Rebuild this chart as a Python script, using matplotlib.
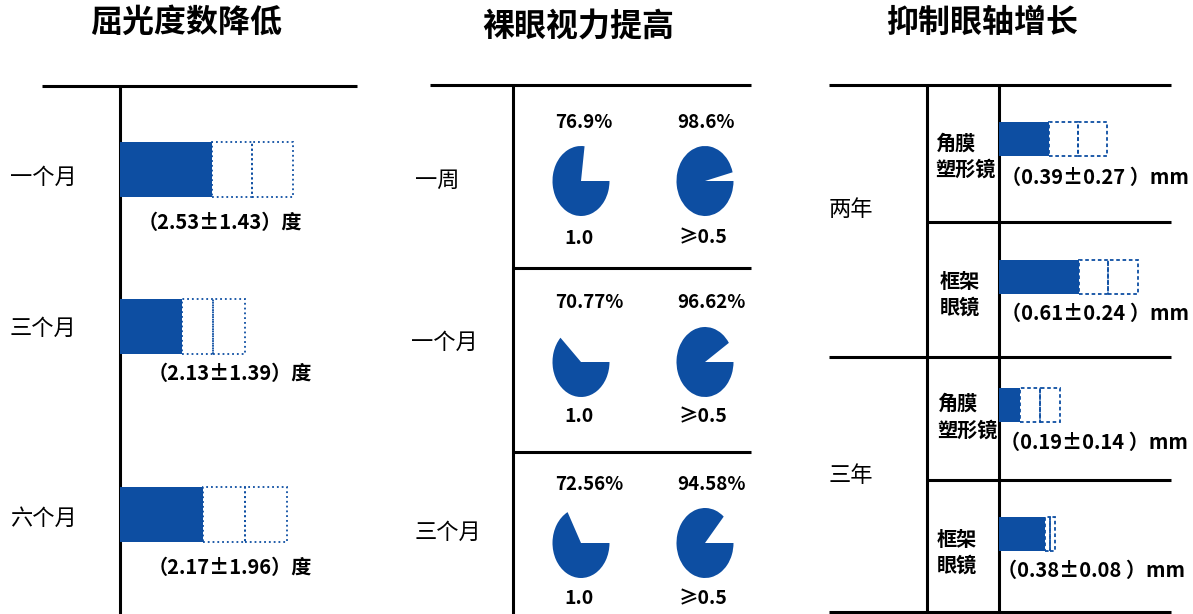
import matplotlib
matplotlib.use("Agg")
from matplotlib import pyplot as plt

plt.rcParams["font.family"] = ["Noto Sans CJK SC", "DejaVu Sans"]

BLUE = "#0d4ea2"

# panel titles
titles = ["屈光度数降低", "裸眼视力提高", "抑制眼轴增长"]

# left panel: refraction decrease (degrees)
refr_periods = ["一个月", "三个月", "六个月"]
refr_mean = [2.53, 2.13, 2.17]
refr_sd = [1.43, 1.39, 1.96]
# bar lengths as drawn in the picture (solid part + each dotted box)
refr_bar = [2.53, 1.69, 2.28]
refr_box = [1.11, 0.87, 1.15]

# middle panel: uncorrected visual acuity
va_periods = ["一周", "一个月", "三个月"]
va_levels = ["1.0", "≥0.5"]
va_pct = [[76.9, 98.6], [70.77, 96.62], [72.56, 94.58]]
# missing wedge of each pie as drawn
va_gap = [[0.23, 0.04], [0.378, 0.092], [0.328, 0.136]]

# right panel: axial elongation (mm)
axial_years = ["两年", "三年"]
axial_groups = [["角膜", "塑形镜"], ["框架", "眼镜"]]
axial_mean = [[0.39, 0.61], [0.19, 0.38]]
axial_sd = [[0.27, 0.24], [0.14, 0.08]]
axial_bar = [[0.385, 0.615], [0.158, 0.354]]
axial_box = [[0.223, 0.227], [0.154, 0.038]]

W, H = 1193, 614
fig = plt.figure(figsize=(W / 100, H / 100), dpi=100)
bg = fig.add_axes([0, 0, 1, 1])
bg.set_xlim(0, W)
bg.set_ylim(H, 0)
bg.axis("off")


def px_axes(x0, y0, w, h):
    a = fig.add_axes([x0 / W, 1 - (y0 + h) / H, w / W, h / H])
    a.axis("off")
    return a


def hline(y, x0, x1):
    bg.plot([x0, x1], [y, y], color="black", lw=2.2, solid_capstyle="butt")


def vline(x, y0, y1):
    bg.plot([x, x], [y0, y1], color="black", lw=2.2, solid_capstyle="butt")


def bar_row(x0, yc, h, scale, solid, box, ls):
    a = px_axes(x0, yc - h / 2, 220, h)
    a.set_xlim(0, 220 / scale)
    a.set_ylim(-0.5, 0.5)
    a.barh(0, solid, height=1, color=BLUE, clip_on=False)
    for k in range(2):
        a.barh(0, box, left=solid + k * box, height=1, fill=False,
               edgecolor=BLUE, linestyle=ls, linewidth=1.3, clip_on=False)


# titles
for t, (x, y) in zip(titles, [(186, 23), (578, 27), (982, 23)]):
    bg.text(x, y, t, fontsize=23, fontweight="bold", ha="center", va="center")

# ---- left panel ----
hline(86, 42, 357)
vline(120, 86, 614)
refr_rows = [169.5, 326, 514]
refr_lab = [(43, 177), (43, 328), (43, 518)]
refr_val = [(220, 222), (230, 373), (230, 567)]
for i in range(3):
    bar_row(120, refr_rows[i], 55, 36.4, refr_bar[i], refr_box[i], ":")
    bg.text(*refr_lab[i], refr_periods[i], fontsize=16, ha="center", va="center")
    bg.text(*refr_val[i], f"（{refr_mean[i]:.2f}±{refr_sd[i]:.2f}）度",
            fontsize=14.5, fontweight="bold", ha="center", va="center")

# ---- middle panel ----
hline(85, 430, 751)
vline(513, 85, 614)
hline(268, 513, 751)
hline(452, 513, 751)
va_lab = [(437, 180), (444, 342), (448, 532)]
pie_cy = [181, 362, 543]
pie_cx = [581, 705]
pct_y = [122, 302, 485]
lvl_y = [238, 417, 599]
for i in range(3):
    bg.text(*va_lab[i], va_periods[i], fontsize=16, ha="center", va="center")
    for j in range(2):
        rx, ry = 28.5, 35
        a = px_axes(pie_cx[j] - rx, pie_cy[i] - ry, 2 * rx, 2 * ry)
        a.pie([va_gap[i][j], 1 - va_gap[i][j]], colors=["none", BLUE],
              startangle=0, counterclock=True, wedgeprops=dict(linewidth=0))
        a.set_aspect("auto")
        a.set_xlim(-1, 1)
        a.set_ylim(-1, 1)
        bg.text([555, 677][j], pct_y[i], f"{va_pct[i][j]:g}%", fontsize=13.5,
                fontweight="bold", ha="left", va="center")
        bg.text([579, 703][j], lvl_y[i], va_levels[j], fontsize=14,
                fontweight="bold", ha="center", va="center")

# ---- right panel ----
hline(85, 829, 1171)
vline(927, 85, 612)
vline(999, 85, 612)
hline(222, 927, 1171)
hline(357, 829, 1171)
hline(480, 927, 1171)
hline(612, 829, 1171)
ax_rows = [[139, 277], [405, 534]]
ax_year_y = [210, 475]
grp_pos = [[(935, 143, 169), (940, 282, 307)], [(937, 403, 430), (937, 539, 565)]]
ax_val = [[(1095, 177), (1095, 313)], [(1094, 442), (1091, 570)]]
for i in range(2):
    bg.text(851, ax_year_y[i], axial_years[i], fontsize=16, ha="center", va="center")
    for j in range(2):
        bar_row(999, ax_rows[i][j], 34, 130, axial_bar[i][j], axial_box[i][j], (0, (2, 1.5)))
        gx, gy1, gy2 = grp_pos[i][j]
        bg.text(gx, gy1, axial_groups[j][0], fontsize=14.5, fontweight="bold", ha="left", va="center")
        bg.text(gx, gy2, axial_groups[j][1], fontsize=14.5, fontweight="bold", ha="left", va="center")
        bg.text(*ax_val[i][j], f"（{axial_mean[i][j]:.2f}±{axial_sd[i][j]:.2f} ）mm",
                fontsize=14.5, fontweight="bold", ha="center", va="center")

fig.savefig("out.png", dpi=100)
